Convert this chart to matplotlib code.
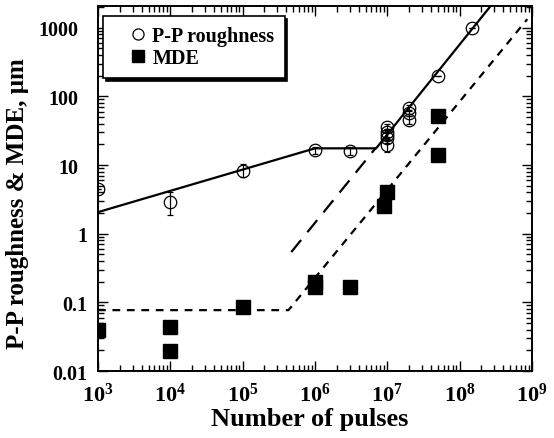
## P-P roughness and MDE vs number of pulses

import matplotlib
matplotlib.use('Agg')
import matplotlib.pyplot as plt
from matplotlib.lines import Line2D
from matplotlib.ticker import LogLocator, NullFormatter, FixedLocator

plt.rcParams['font.family'] = 'Liberation Serif'
plt.rcParams['font.weight'] = 'bold'
plt.rcParams['mathtext.fontset'] = 'custom'
plt.rcParams['mathtext.rm'] = 'Liberation Serif:bold'
plt.rcParams['mathtext.it'] = 'Liberation Serif:bold'
plt.rcParams['mathtext.bf'] = 'Liberation Serif:bold'

## P-P roughness points (open circles)
pp_x = [1e3, 1e4, 1e5, 1e6, 3e6, 1e7, 1e7, 1e7, 1e7, 1e7, 2e7, 2e7, 2e7, 5e7, 1.5e8]
pp_y = [4.4, 2.9, 8.2, 16.5, 16, 36, 30, 27, 25, 19.5, 68, 57, 45, 200, 1000]
pp_err_lo = [0, 1.0, 1.5, 2.0, 2.0, 4, 4, 4, 4, 4, 6, 6, 6, 0, 0]
pp_err_hi = [0, 1.1, 2.1, 2.0, 2.0, 4, 4, 4, 4, 4, 6, 6, 6, 0, 0]

## MDE points (filled squares)
mde_x = [1e3, 1e4, 1e4, 1e5, 1e6, 1e6, 3e6, 9e6, 1e7, 5e7, 5e7]
mde_y = [0.039, 0.044, 0.0195, 0.086, 0.2, 0.167, 0.17, 2.5, 4.1, 51, 14]

## fitted lines
pp_fit_x = [1e3, 1e6, 7e6, 4e8]
pp_fit_y = [2.06, 17.5, 17.5, 3500]
ext_x = [4.7e5, 7e6]
ext_y = [0.54, 18]
mde_fit_x = [1e3, 4.3e5, 8.6e8]
mde_fit_y = [0.077, 0.077, 1330]

y_ticks = [0.01, 0.1, 1, 10, 100, 1000]
y_labels = ['0.01', '0.1', '1', '10', '100', '1000']

fig = plt.figure(figsize=(5.54, 4.39), dpi=100)
ax = fig.add_axes([98/554, 1-372/439, 434/554, 365/439])

ax.plot(pp_fit_x, pp_fit_y, color='black', lw=1.6, zorder=2)
ax.plot(ext_x, ext_y, color='black', lw=1.6, dashes=(7, 4.5), zorder=2)
ax.plot(mde_fit_x, mde_fit_y, color='black', lw=1.6, dashes=(3.5, 3), zorder=2)

ax.errorbar(pp_x, pp_y, yerr=[pp_err_lo, pp_err_hi], fmt='o', mfc='none', mec='black',
            ecolor='black', ms=9, mew=0.9, elinewidth=0.9, capsize=2, capthick=0.9,
            zorder=3)
ax.plot(mde_x, mde_y, 's', color='black', ms=10, zorder=4)

ax.set_xscale('log')
ax.set_yscale('log')
ax.set_xlim(1e3, 1e9)
ax.set_ylim(0.01, 2070)

ax.xaxis.set_major_locator(FixedLocator([1e3, 1e4, 1e5, 1e6, 1e7, 1e8, 1e9]))
ax.set_xticklabels([r'$10^{%d}$' % e for e in range(3, 10)])
ax.yaxis.set_major_locator(FixedLocator(y_ticks))
ax.set_yticklabels(y_labels)
ax.xaxis.set_minor_locator(LogLocator(base=10, subs=range(2, 10), numticks=20))
ax.yaxis.set_minor_locator(LogLocator(base=10, subs=range(2, 10), numticks=20))
ax.xaxis.set_minor_formatter(NullFormatter())
ax.yaxis.set_minor_formatter(NullFormatter())

ax.tick_params(which='both', direction='in', top=True, right=True, width=1)
ax.tick_params(which='major', length=7)
ax.tick_params(which='minor', length=4)
ax.tick_params(axis='x', pad=8, labelsize=16)
ax.tick_params(axis='y', labelsize=14.5)
for s in ax.spines.values():
    s.set_linewidth(1.4)
# integer labels sit a little further left than the decimal ones
for t, v in zip(ax.yaxis.get_major_ticks(), y_ticks):
    t.set_pad(14 if v >= 10 else 8)

ax.set_xlabel('Number of pulses', fontsize=19, fontweight='bold')
ax.xaxis.set_label_coords(0.488, -0.098)
ax.set_ylabel('P-P roughness & MDE, μm', fontsize=18, fontweight='bold')
ax.yaxis.set_label_coords(-0.16, 0.46)

handles = [Line2D([], [], marker='o', ls='none', mfc='none', mec='black', ms=8, mew=0.9),
           Line2D([], [], marker='s', ls='none', color='black', ms=9)]
leg = ax.legend(handles, ['P-P roughness', 'MDE'], loc='upper left',
                bbox_to_anchor=(0.0115, 0.9726), borderaxespad=0, fontsize=14.5,
                frameon=True, fancybox=False, edgecolor='black', framealpha=1,
                shadow={'color': 'black', 'alpha': 1}, handlelength=2.5,
                labelspacing=0.1, handletextpad=-0.55, borderpad=0.5)
leg.get_frame().set_linewidth(1.2)

fig.savefig('out.png', dpi=100)
